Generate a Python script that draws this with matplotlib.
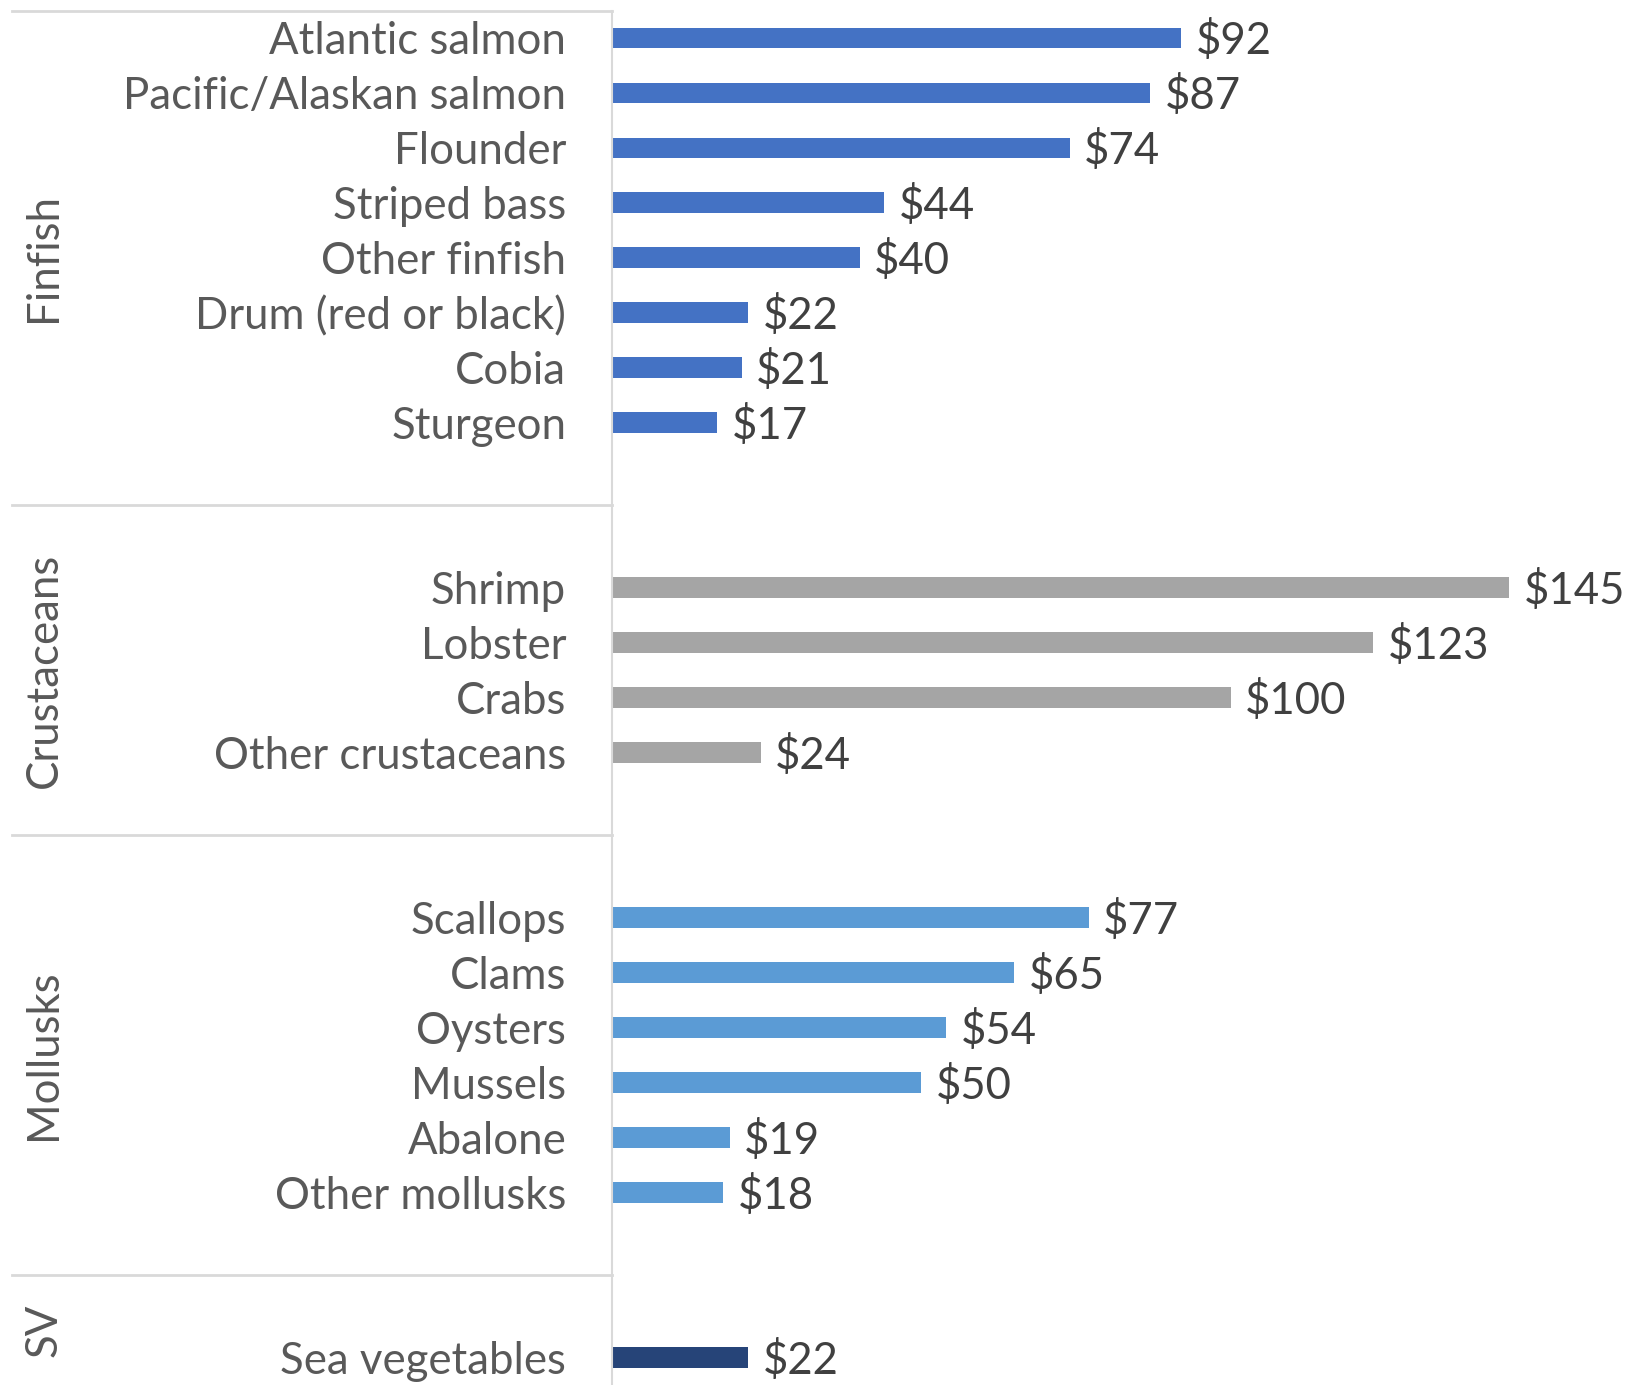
import matplotlib
matplotlib.use("Agg")
import matplotlib.pyplot as plt
from matplotlib.transforms import blended_transform_factory

plt.rcParams['font.family'] = ['Lato', 'DejaVu Sans']

# data
groups = ["Finfish", "Crustaceans", "Mollusks", "SV"]
finfish = ["Atlantic salmon", "Pacific/Alaskan salmon", "Flounder", "Striped bass",
           "Other finfish", "Drum (red or black)", "Cobia", "Sturgeon"]
finfish_vals = [92, 87, 74, 44, 40, 22, 21, 17]
crustaceans = ["Shrimp", "Lobster", "Crabs", "Other crustaceans"]
crustaceans_vals = [145, 123, 100, 24]
mollusks = ["Scallops", "Clams", "Oysters", "Mussels", "Abalone", "Other mollusks"]
mollusks_vals = [77, 65, 54, 50, 19, 18]
sv = ["Sea vegetables"]
sv_vals = [22]

group_items = [finfish, crustaceans, mollusks, sv]
group_vals = [finfish_vals, crustaceans_vals, mollusks_vals, sv_vals]
colors = ["#4472C4", "#A5A5A5", "#5B9BD5", "#264478"]

fs = 31.5
label_col = "#595959"
val_col = "#404040"
line_col = "#D9D9D9"

fig = plt.figure(figsize=(16.4, 13.85), dpi=100)
ax = fig.add_axes([612 / 1640, 0, 1 - 612 / 1640, 1 - 10.5 / 1385])

# slot layout: blank slot before every group but the first, after every group but the last
slot = 0
seps = [-0.5]
spans = []
ticks, ticklabels = [], []
for gi, (items, vals) in enumerate(zip(group_items, group_vals)):
    start = slot - 0.5
    if gi > 0:
        slot += 1
    for name, v in zip(items, vals):
        ax.barh(slot, v, height=0.38, color=colors[gi])
        ax.text(v + 2.3, slot + 0.06, f"${v}", va="center", ha="left", fontsize=fs,
                color=val_col)
        ticks.append(slot)
        ticklabels.append(name)
        slot += 1
    if gi < len(group_items) - 1:
        slot += 1
        seps.append(slot - 0.5)
    spans.append((start, slot - 0.5))

total = slot
ax.set_ylim(total - 0.5, -0.5)
ax.set_xlim(0, 166.1)

ax.set_yticks(ticks)
ax.set_yticklabels(ticklabels, fontsize=fs, color=label_col)
for t in ax.get_yticklabels():
    t.set_va("center_baseline")
ax.tick_params(axis="y", length=0, pad=33)
ax.set_xticks([])
for s in ["top", "right", "bottom"]:
    ax.spines[s].set_visible(False)
ax.spines["left"].set_color(line_col)
ax.spines["left"].set_linewidth(1.5)

trans = blended_transform_factory(fig.transFigure, ax.transData)
for y in seps:
    ax.plot([12.5 / 1640, 612 / 1640], [y, y], transform=trans, color=line_col,
            lw=2, clip_on=False)

for g, (a, b) in zip(groups, spans):
    ax.text(44 / 1640, (a + b) / 2, g, transform=trans, rotation=90, ha="center",
            va="center", fontsize=fs, color=label_col)

fig.savefig("out.png", dpi=100)
